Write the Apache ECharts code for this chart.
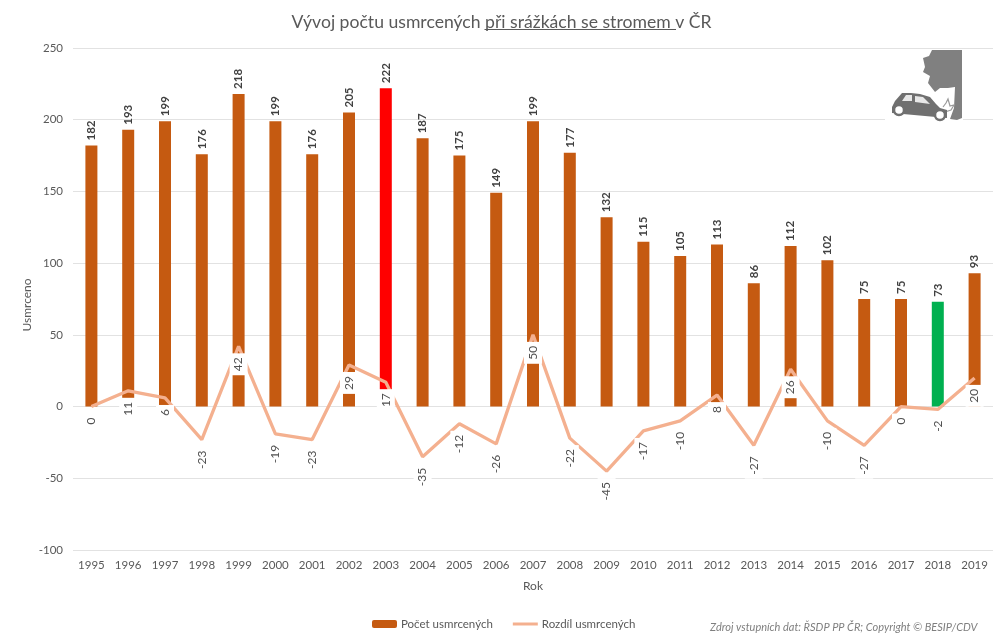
<!DOCTYPE html>
<html><head><meta charset="utf-8">
<style>html,body{margin:0;padding:0;background:#fff}#c{width:1000px;height:641px}</style>
<script src="https://cdn.jsdelivr.net/npm/echarts@6/dist/echarts.min.js"></script>
</head><body><div id="c"></div>
<script>
const years = ['1995','1996','1997','1998','1999','2000','2001','2002','2003','2004','2005','2006','2007','2008','2009','2010','2011','2012','2013','2014','2015','2016','2017','2018','2019'];
const deaths = [182,193,199,176,218,199,176,205,222,187,175,149,199,177,132,115,105,113,86,112,102,75,75,73,93];
const diffs = [0,11,6,-23,42,-19,-23,29,17,-35,-12,-26,50,-22,-45,-17,-10,8,-27,26,-10,-27,0,-2,20];
const barColor = '#C55A11', lineColor = '#F4B08F', textColor = '#595959';
const highlight = {'2003':'#FF0000','2018':'#00B050'};
const font = 'Lato, "Open Sans", sans-serif';
const chart = echarts.init(document.getElementById('c'), null, {renderer:'canvas'});
chart.setOption({
  animation:false,
  backgroundColor:'#fff',
  textStyle:{fontFamily:font},
  title:{text:'Vývoj počtu usmrcených při srážkách se stromem v ČR',left:496.5,top:8,textAlign:'center',
    textStyle:{fontFamily:font,fontSize:17.6,fontWeight:'normal',color:textColor}},
  grid:{left:73,right:7,top:48,bottom:91},
  legend:{left:367,top:613,itemWidth:25,itemHeight:8,itemGap:20,
    textStyle:{fontFamily:font,fontSize:11.5,color:textColor,padding:[0,0,0,-1]},
    data:[{name:'Počet usmrcených'},{name:'Rozdíl usmrcených',icon:'path://M0,0H25V3H0Z'}]},
  xAxis:{type:'category',data:years,name:'Rok',nameLocation:'middle',nameGap:30,
    nameTextStyle:{fontSize:12,color:textColor,fontFamily:font},
    axisLine:{show:false},axisTick:{show:false},
    axisLabel:{color:textColor,fontSize:11.5,interval:0,margin:9,verticalAlign:'top'}},
  yAxis:{type:'value',min:-100,max:250,interval:50,name:'Usmrceno',nameLocation:'middle',nameGap:40,nameMoveOverlap:false,
    nameTextStyle:{fontSize:12,color:textColor,fontFamily:font,padding:[0,12,0,0]},
    axisLine:{show:false},axisTick:{show:false},
    axisLabel:{color:textColor,fontSize:11.5,margin:10},
    splitLine:{lineStyle:{color:'#E2E2E2',width:1}}},
  series:[
    {name:'Počet usmrcených',type:'bar',barWidth:12,itemStyle:{color:barColor},
      data:deaths.map((v,i)=>({value:v,itemStyle:{color:highlight[years[i]]||barColor}})),
      label:{show:true,position:'top',distance:5,rotate:90,align:'left',verticalAlign:'middle',
        fontSize:11.5,fontWeight:'bold',color:'#404040'}},
    {name:'Rozdíl usmrcených',type:'line',data:diffs,symbol:'circle',symbolSize:0,showSymbol:true,smooth:false,z:5,
      lineStyle:{color:lineColor,width:3.3},itemStyle:{color:lineColor},
      label:{show:true,position:'bottom',distance:7,rotate:90,align:'right',verticalAlign:'middle',
        fontSize:12,color:'#505050',backgroundColor:'#fff',padding:[3,4,3,4]}}
  ],
  graphic:[
    {type:'line',z:20,shape:{x1:484.5,y1:29.5,x2:676,y2:29.5},style:{stroke:textColor,lineWidth:1}},
    {type:'text',z:20,left:710,top:622,style:{text:'Zdroj vstupních dat: ŘSDP PP ČR; Copyright © BESIP/CDV',
      fontFamily:font,fontSize:11,fontStyle:'italic',fill:'#7F7F7F'}},
    {type:'rect',z:19,shape:{x:885,y:49,width:78,height:72},style:{fill:'#fff'}},
    {type:'polygon',z:20,shape:{points:[[932,50],[962,50],[962,118],[957,120],[950,119],[954,108],[955,87],[948,88],[940,88],[935,92],[928,83],[930,76],[923,72],[925,67],[923,58],[929,56]]},style:{fill:'#808080'}},
    {type:'polyline',z:20,shape:{points:[[943,107],[946,103],[948,99],[950,106],[954,105],[951,110],[945,112]]},style:{fill:'none',stroke:'#9A9A9A',lineWidth:1.2}},
    {type:'polygon',z:20,shape:{points:[[892,107],[895,101],[902,93],[911,93],[920,94],[930,97],[936,104],[940,108],[947,110],[947,118],[892,113]]},style:{fill:'#707070'}},
    {type:'polygon',z:21,shape:{points:[[902,101],[906,95],[912,95],[912,101]]},style:{fill:'#e8e8e8'}},
    {type:'polygon',z:21,shape:{points:[[915,96],[923,97],[930,104],[915,102]]},style:{fill:'#e8e8e8'}},
    {type:'circle',z:21,shape:{cx:899,cy:110,r:5},style:{fill:'#fff',stroke:'#707070',lineWidth:2.5}},
    {type:'circle',z:21,shape:{cx:940,cy:115,r:5},style:{fill:'#fff',stroke:'#707070',lineWidth:2.5}}
  ]
});
</script></body></html>
